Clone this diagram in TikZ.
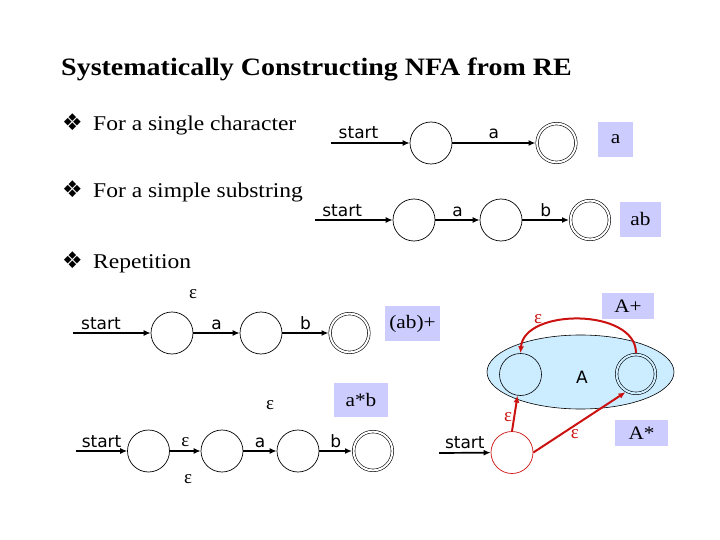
\documentclass[tikz,border=0pt]{standalone}
\usepackage{fontspec}
\setmainfont{Liberation Serif}[FakeStretch=1.12]
\newfontfamily\lab{DejaVu Sans}
\newfontfamily\sym{DejaVu Sans}
\newfontfamily\epsf{Liberation Serif}
\usetikzlibrary{arrows.meta,shapes.geometric}
\definecolor{boxc}{RGB}{204,204,255}
\definecolor{ellc}{RGB}{204,236,255}
\definecolor{redc}{RGB}{204,17,17}
\begin{document}
\begin{tikzpicture}[x=1pt,y=-1pt,
  st/.style={circle,draw,line width=0.7pt,minimum size=42pt,inner sep=0pt},
  acc/.style={circle,draw,double,double distance=2pt,line width=0.6pt,minimum size=38.8pt,inner sep=0pt,outer sep=1.6pt},
  tr/.style={line width=1.7pt,-{Latex[length=7pt,width=6pt]}},
  rtr/.style={redc,line width=2pt,-{Latex[length=7pt,width=6pt]}},
  lbl/.style={font=\lab\fontsize{17}{17}\selectfont,anchor=base,inner sep=0pt},
  onl/.style={lbl,yshift=4pt},
  eps/.style={font=\epsf\fontsize{19}{19}\selectfont,inner sep=0pt},
  rebox/.style={fill=boxc,font=\fontsize{19}{19}\selectfont,inner sep=0pt},
  bul/.style={anchor=base west,inner sep=0pt,font=\fontsize{21}{21}\selectfont},
  bulsym/.style={anchor=base west,inner sep=0pt,font=\sym\fontsize{23}{23}\selectfont}]
\useasboundingbox (0,0) rectangle (720,540);
% title and bullets
\node[anchor=base west,inner sep=0pt,font=\bfseries\fontsize{25}{25}\selectfont] (title) at (61,76) {Systematically Constructing NFA from RE};
\node[bulsym] (s1) at (62,131) {❖};
\node[bul] (b1) at (93,131) {For a single character};
\node[bulsym] (s2) at (62,198) {❖};
\node[bul] (b2) at (93,198) {For a simple substring};
\node[bulsym] (s3) at (62,268) {❖};
\node[bul] (b3) at (93,268) {Repetition};
% single character
\coordinate (r1s) at (331,143);
\node[st] (r1a) at (431,143) {};
\node[acc] (r1b) at (556.5,143) {};
\draw[tr] (r1s) -- node[onl,pos=0.35] {start} (r1a);
\draw[tr] (r1a) -- node[onl] {a} (r1b);
\node[rebox,minimum width=35pt,minimum height=35pt] (bxa) at (615.5,139.5) {a};
% substring
\coordinate (r2s) at (315,220);
\node[st] (r2a) at (414,220) {};
\node[st] (r2b) at (501,220) {};
\node[acc] (r2c) at (590,220) {};
\draw[tr] (r2s) -- node[onl,pos=0.35] {start} (r2a);
\draw[tr] (r2a) -- node[onl] {a} (r2b);
\draw[tr] (r2b) -- node[onl] {b} (r2c);
\node[rebox,minimum width=41pt,minimum height=35pt] (bxab) at (640.5,219.5) {ab};
% (ab)+
\coordinate (r3s) at (73,333);
\node[st] (r3a) at (172,333) {};
\node[st] (r3b) at (261,333) {};
\node[acc] (r3c) at (349.5,333) {};
\draw[tr] (r3s) -- node[onl,pos=0.36] {start} (r3a);
\draw[tr] (r3a) -- node[onl] {a} (r3b);
\draw[tr] (r3b) -- node[onl] {b} (r3c);
\node[eps] (r3e) at (193,294) {ε};
\node[rebox,minimum width=55pt,minimum height=35pt] (bxabp) at (412.5,323.5) {(ab)+};
% a*b
\coordinate (r4s) at (76,451);
\node[st] (r4a) at (148.5,451) {};
\node[st] (r4b) at (222,451) {};
\node[st] (r4c) at (298,451) {};
\node[acc] (r4d) at (373,451) {};
\draw[tr] (r4s) -- node[onl,pos=0.5] {start} (r4a);
\draw[tr] (r4a) -- node[eps,midway,yshift=9pt] {ε} (r4b);
\draw[tr] (r4b) -- node[onl] {a} (r4c);
\draw[tr] (r4c) -- node[onl] {b} (r4d);
\node[eps] (r4e1) at (270,405) {ε};
\node[eps] (r4e2) at (188,479) {ε};
\node[rebox,minimum width=54pt,minimum height=34pt] (bxasb) at (361,400) {a*b};
% A+ / A*
\node[draw,fill=ellc,ellipse,line width=0.6pt,minimum width=187pt,minimum height=74pt,inner sep=0pt] (ell) at (580.5,372) {};
\node[st,line width=0.6pt] (L) at (520.5,374.5) {};
\node[acc,double=ellc] (R) at (636,374) {};
\node[font=\lab\fontsize{17}{17}\selectfont,inner sep=0pt] (Alab) at (582,377) {A};
\draw[rtr] (R.north) .. controls (636,308) and (524,308) .. (L.north);
\node[eps,text=redc] (epsp) at (538,319) {ε};
\node[rebox,minimum width=52pt,minimum height=26pt] (bxAp) at (628,306) {A+};
\coordinate (r5s) at (439,453);
\node[circle,draw=redc,line width=0.7pt,minimum size=42pt,inner sep=0pt] (S) at (512,452.5) {};
\draw[tr] (r5s) -- node[onl,pos=0.5] {start} (S);
\draw[rtr] (S.north) -- node[eps,text=redc,left,xshift=-1pt,pos=0.4] {ε} (L.262);
\draw[rtr] (S.east) -- node[eps,text=redc,below,pos=0.45,yshift=-3pt] {ε} (R.240);
\node[rebox,minimum width=53pt,minimum height=26pt] (bxAs) at (641.5,433) {A*};
\end{tikzpicture}
\end{document}
